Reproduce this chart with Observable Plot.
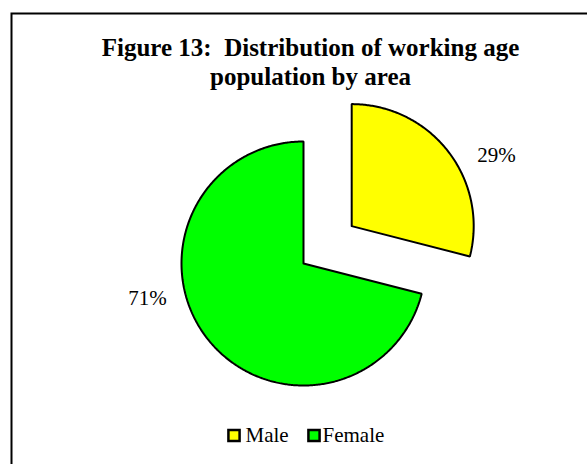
<!DOCTYPE html>
<html>
<head>
<meta charset="utf-8">
<script src="https://cdn.jsdelivr.net/npm/d3@7"></script>
<script src="https://cdn.jsdelivr.net/npm/@observablehq/plot@0.6"></script>
<style>
  html, body { margin: 0; padding: 0; background: #fff; }
  svg { display: block; }
</style>
</head>
<body>
<div id="chart"></div>
<script>
// ---- data ----
const categories = ["Male", "Female"];
const shares = [29, 71];
const labels = ["29%", "71%"];
const colors = ["#FFFF00", "#00FF00"];
const titleLines = ["Figure 13:  Distribution of working age", "population by area"];

// ---- layout ----
const W = 587, H = 464;
const cx = 303, cy = 263, R = 122;
const explode = [61, 0];
const labelPos = [[496, 155], [147, 298]];
const serif = "'Liberation Serif', 'Times New Roman', Times, serif";

const total = d3.sum(shares);
let acc = 0;
const slices = categories.map((c, i) => {
  const a0 = acc / total * 2 * Math.PI;
  acc += shares[i];
  const a1 = acc / total * 2 * Math.PI;
  const am = (a0 + a1) / 2;
  const ox = cx + explode[i] * Math.sin(am), oy = cy - explode[i] * Math.cos(am);
  return {cat: c, i, a0, a1, ox, oy};
});

const pts = [];
for (const s of slices) {
  pts.push({cat: s.cat, x: s.ox, y: s.oy});
  const n = Math.max(8, Math.ceil((s.a1 - s.a0) / 0.01));
  for (let k = 0; k <= n; k++) {
    const a = s.a0 + (s.a1 - s.a0) * k / n;
    pts.push({cat: s.cat, x: s.ox + R * Math.sin(a), y: s.oy - R * Math.cos(a)});
  }
  pts.push({cat: s.cat, x: s.ox, y: s.oy});
}

const labelData = categories.map((c, i) => ({label: labels[i], x: labelPos[i][0], y: labelPos[i][1]}));
const legendData = categories.map((c, i) => ({cat: c, sx: [233.5, 313.5][i], tx: [245, 322][i], y: 435}));
const titleData = titleLines.map((t, i) => ({t, x: 310, y: [47, 76][i]}));

const chart = Plot.plot({
  width: W, height: H,
  margin: 0,
  x: {type: "identity", axis: null},
  y: {type: "identity", axis: null},
  color: {domain: categories, range: colors},
  marks: [
    Plot.frame({insetLeft: 11, insetTop: 13, insetRight: -20, insetBottom: -20, stroke: "black", strokeWidth: 2}),
    Plot.line(pts, {x: "x", y: "y", z: "cat", fill: "cat", stroke: "black", strokeWidth: 2, curve: "linear", strokeLinejoin: "miter"}),
    Plot.text(labelData, {x: "x", y: "y", text: "label", fontSize: 21, fontFamily: serif, fill: "black"}),
    Plot.text(titleData, {x: "x", y: "y", text: "t", fontSize: 25, fontWeight: "bold", fontFamily: serif, fill: "black"}),
    Plot.dot(legendData, {x: "sx", y: "y", symbol: "square", r: 6.3, fill: "cat", stroke: "black", strokeWidth: 2.5}),
    Plot.text(legendData, {x: "tx", y: "y", text: "cat", textAnchor: "start", fontSize: 21, fontFamily: serif, fill: "black"})
  ]
});
document.getElementById("chart").appendChild(chart);
</script>
</body>
</html>
